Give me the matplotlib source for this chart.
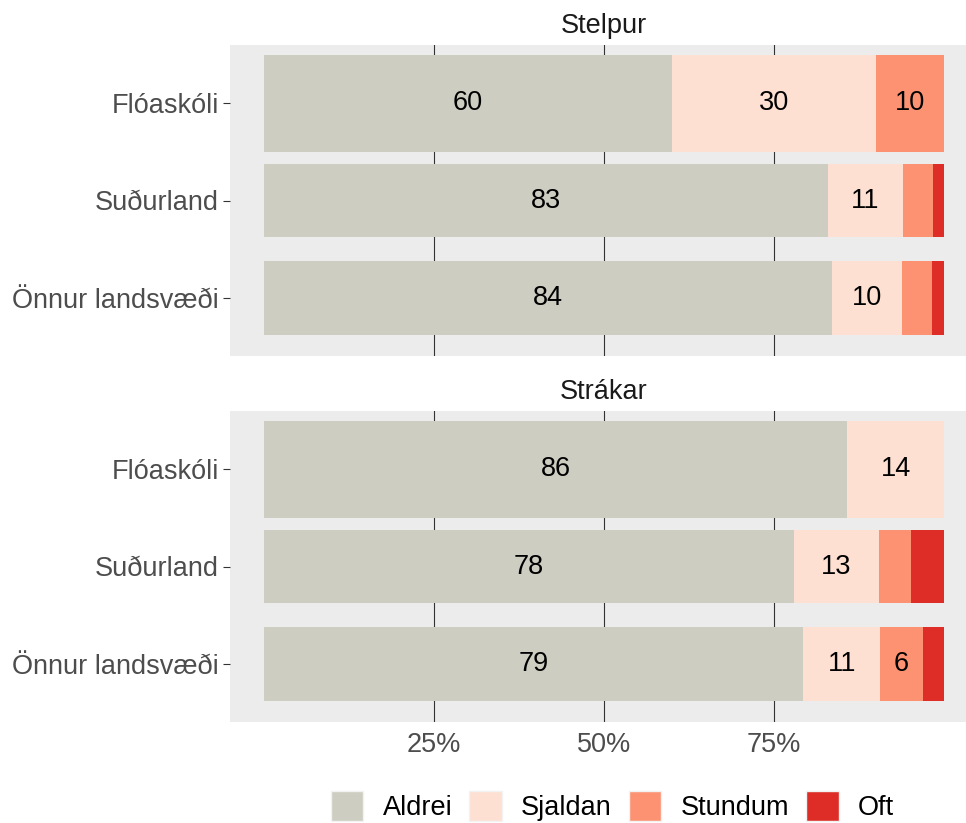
import numpy as np
import matplotlib
matplotlib.use('agg')
import matplotlib.pyplot as plt
from matplotlib.patches import Patch

plt.rcParams['font.family'] = ['Liberation Sans', 'DejaVu Sans']

# data (percent)
groups = ["Stelpur", "Strákar"]
regions = ["Flóaskóli", "Suðurland", "Önnur landsvæði"]
answers = ["Aldrei", "Sjaldan", "Stundum", "Oft"]

stelpur_aldrei = [60.0, 82.9, 83.6]
stelpur_sjaldan = [30.0, 11.0, 10.2]
stelpur_stundum = [10.0, 4.5, 4.5]
stelpur_oft = [0.0, 1.6, 1.7]

strakar_aldrei = [85.8, 77.9, 79.3]
strakar_sjaldan = [14.2, 12.6, 11.3]
strakar_stundum = [0.0, 4.7, 6.3]
strakar_oft = [0.0, 4.8, 3.1]

colors = ["#CDCDC1", "#FEE0D2", "#FC9272", "#DE2D26"]
bar_width = [1.0, 0.76, 0.76]

panels = {
    "Stelpur": [stelpur_aldrei, stelpur_sjaldan, stelpur_stundum, stelpur_oft],
    "Strákar": [strakar_aldrei, strakar_sjaldan, strakar_stundum, strakar_oft],
}

W, H = 966, 823
fig = plt.figure(figsize=(W / 100, H / 100), dpi=100)

# panel boxes in pixels: left, top, right, bottom
boxes = {"Stelpur": (230, 45, 978, 356), "Strákar": (230, 411, 978, 722)}

fs = 19.5
for g in groups:
    l, t, r, b = boxes[g]
    ax = fig.add_axes([l / W, 1 - b / H, (r - l) / W, (b - t) / H])
    ax.set_facecolor("#ECECEC")
    ypos = np.arange(len(regions))
    left = np.zeros(len(regions))
    for series, col in zip(panels[g], colors):
        vals = np.array(series) / 100.0
        ax.barh(ypos, vals, left=left, height=bar_width, color=col, linewidth=0, zorder=2)
        for y, v, lf in zip(ypos, vals, left):
            if v * 100 >= 5:
                ax.text(lf + v / 2, y, "%d" % round(v * 100), ha="center", va="center",
                        fontsize=fs, color="black", zorder=3)
        left = left + vals
    ax.set_xlim(-0.05, 1.05)
    ax.set_ylim(len(regions) - 0.4, -0.6)
    ax.set_xticks([0.25, 0.5, 0.75])
    ax.set_xticklabels(["25%", "50%", "75%"])
    ax.set_yticks(ypos)
    ax.set_yticklabels(regions)
    ax.grid(axis="x", color="#333333", linewidth=0.8, zorder=1)
    ax.set_axisbelow(True)
    for s in ax.spines.values():
        s.set_visible(False)
    ax.tick_params(axis="y", length=5, width=0.8, color="#333333", pad=3,
                   labelsize=fs, labelcolor="#4D4D4D")
    ax.tick_params(axis="x", length=0, pad=7, labelsize=fs, labelcolor="#4D4D4D")
    if g == "Stelpur":
        ax.tick_params(axis="x", labelbottom=False)
    ax.set_title(g, fontsize=fs, color="#1A1A1A", pad=8.5)

handles = [Patch(facecolor=c, edgecolor="#F2F2F2", linewidth=1) for c in colors]
fig.legend(handles, answers, loc="center", bbox_to_anchor=(0.634, 1 - 806 / H),
           ncol=4, frameon=False, fontsize=fs, handlelength=1.2, handleheight=1.3,
           handletextpad=0.72, columnspacing=0.62)

fig.savefig("out.png", dpi=100)
